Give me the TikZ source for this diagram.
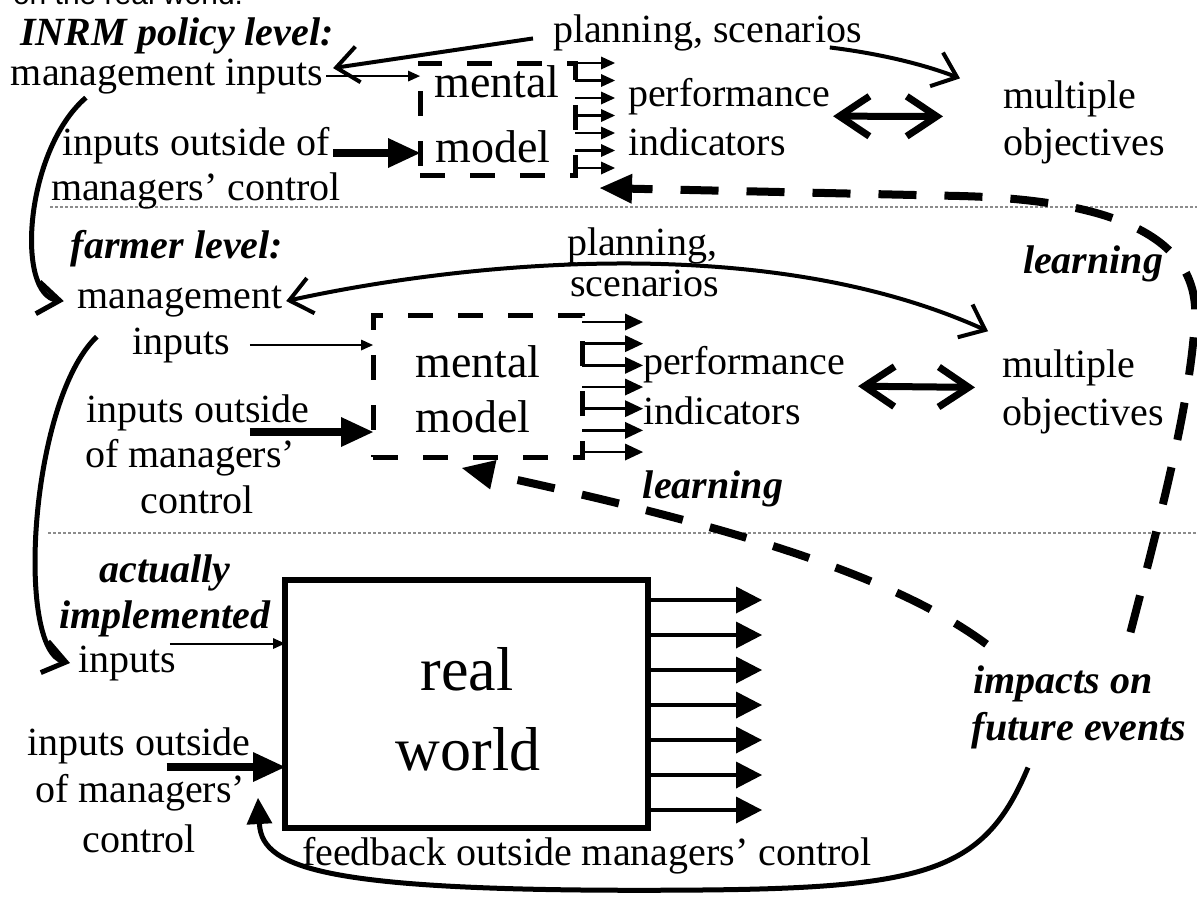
\documentclass[tikz,border=0pt]{standalone}
\usepackage{fontspec}
\setmainfont{Liberation Serif}
\newfontfamily\topfont{Liberation Sans}
\usetikzlibrary{arrows.meta,calc}
\tikzset{
  txt/.style={inner sep=0pt, outer sep=0pt, font=\fontsize{20}{22}\selectfont},
  bi/.style={inner sep=0pt, outer sep=0pt, font=\fontsize{20}{22}\selectfont\bfseries\itshape},
  topcut/.style={inner sep=0pt, outer sep=0pt, font=\topfont\fontsize{15}{15}\selectfont},
  mmtxt/.style={inner sep=0pt, outer sep=0pt, font=\fontsize{23}{25}\selectfont},
  rwtxt/.style={inner sep=0pt, outer sep=0pt, font=\fontsize{31}{33}\selectfont},
  mbox/.style={draw, line width=2.5pt, dash pattern=on 12.5pt off 12.5pt, inner sep=0pt, outer sep=0pt},
  rwbox/.style={draw, line width=3pt, inner sep=0pt, outer sep=0pt},
  sepline/.style={draw=black!45, line width=0.6pt, dash pattern=on 1.5pt off 1pt},
  thinarr/.style={line width=1pt, -{Triangle[length=6pt,width=5.5pt,line width=0pt]}},
  thickarr/.style={line width=4pt, -{Triangle[length=16pt,width=15pt,line width=0pt]}},
  outarr/.style={line width=1.25pt, -{Triangle[length=7pt,width=6.5pt,line width=0pt]}},
  outarrb/.style={line width=1.25pt, -{Triangle[length=9pt,width=8.5pt,line width=0pt]}},
  bigout/.style={line width=2.25pt, -{Triangle[length=13pt,width=13.5pt,line width=0pt]}},
  barb/.style={line width=2pt, -{Straight Barb[length=11pt,width=18pt]}},
  barbs/.style={line width=2pt, {Straight Barb[length=11pt,width=18pt]}-{Straight Barb[length=11pt,width=18pt]}},
  curvearr/.style={line width=2.5pt, -{Straight Barb[length=11pt,width=16pt]}},
  dblarr/.style={line width=3.5pt, {Straight Barb[length=15pt,width=20pt]}-{Straight Barb[length=15pt,width=20pt]}},
  learn/.style={line width=4pt, dash pattern=on 19pt off 14pt, -{Triangle[length=16pt,width=15pt,line width=0pt]}},
  fbarr/.style={line width=2.5pt, -{Triangle[length=13pt,width=13pt,line width=0pt]}},
}
\begin{document}
\begin{tikzpicture}[x=0.5pt,y=-0.5pt]
\useasboundingbox (0,0) rectangle (1197,896);

% separators
\draw[sepline] (50,207) -- (1197,207);
\draw[sepline] (48,533) -- (1197,533);

% cut caption at the top edge
\node[topcut, anchor=base west] (cut) at (13,4) {on the real world.};

% ---------- INRM policy level ----------
\node[bi, anchor=base] (t1) at (177,45) {INRM policy level:};
\node[txt, anchor=base] (t2) at (167,85) {management inputs};
\node[txt, anchor=base] (t3) at (196,155) {inputs outside of};
\node[txt, anchor=base] (t4) at (196,200) {managers’ control};
\node[mbox, minimum width=77.5pt, minimum height=56pt] (box1) at (497.5,119) {};
\node[mmtxt, anchor=base] (t5) at (497,97) {mental};
\node[mmtxt, anchor=base] (t6) at (493,162) {model};
\node[txt, anchor=base west] (t7) at (628,106) {performance};
\node[txt, anchor=base west] (t8) at (628,155) {indicators};
\node[txt, anchor=base west] (t9) at (1003,108) {multiple};
\node[txt, anchor=base west] (t10) at (1003,155) {objectives};
\node[txt, anchor=base west] (t11) at (553,42) {planning, scenarios};
\node[bi, anchor=base] (t12) at (1093,273) {learning};

% ---------- farmer level ----------
\node[bi, anchor=base] (s1) at (177,258) {farmer level:};
\node[txt, anchor=base] (s2) at (180,308) {management};
\node[txt, anchor=base] (s3) at (181,354) {inputs};
\node[txt, anchor=base] (s4) at (198,422) {inputs outside};
\node[txt, anchor=base] (s5) at (190,467) {of managers’};
\node[txt, anchor=base] (s6) at (197,513) {control};
\node[mbox, minimum width=104.5pt, minimum height=71pt] (box2) at (477.5,386) {};
\node[mmtxt, anchor=base] (s7) at (478,377) {mental};
\node[mmtxt, anchor=base] (s8) at (473,432) {model};
\node[txt, anchor=base west] (s9) at (567,255) {planning,};
\node[txt, anchor=base west] (s10) at (570,296) {scenarios};
\node[txt, anchor=base west] (s11) at (643,374) {performance};
\node[txt, anchor=base west] (s12) at (643,424) {indicators};
\node[txt, anchor=base west] (s13) at (1002,377) {multiple};
\node[txt, anchor=base west] (s14) at (1002,425) {objectives};
\node[bi, anchor=base] (s15) at (713,498) {learning};

% ---------- actually implemented ----------
\node[bi, anchor=base] (a1) at (165,582) {actually};
\node[bi, anchor=base] (a2) at (165,628) {implemented};
\node[txt, anchor=base west] (a3) at (78,672) {inputs};
\node[txt, anchor=base] (a4) at (139,755) {inputs outside};
\node[txt, anchor=base] (a5) at (140,802) {of managers’};
\node[txt, anchor=base] (a6) at (139,852) {control};
\node[rwbox, minimum width=181.5pt, minimum height=124pt] (rw) at (466.5,704) {};
\node[rwtxt, anchor=base] (rw1) at (467,690) {real};
\node[rwtxt, anchor=base] (rw2) at (468,770) {world};
\node[txt, anchor=base west] (fb) at (302,865) {feedback outside managers’ control};
\node[bi, anchor=base] (im1) at (1063,693) {impacts on};
\node[bi, anchor=base] (im2) at (1079,740) {future events};

% ---------- connectors: top level ----------
\draw[thinarr] ([xshift=1.5pt]t2.east) -- (t2.east -| box1.west);
\coordinate (t3a) at ($(t3.base east)+(4,-2)$);
\draw[thickarr] (t3a) -- (t3a -| box1.west);
\foreach \i in {0,...,6}
  \draw[outarr] ($(box1.north east)+(0,17.5*\i)$) -- ++(40,0);
\draw[dblarr] ([shift={(3,20)}]t7.east) -- ([shift={(-60,18)}]t9.west);
\draw[barb] ([shift={(-20,6)}]t11.west) -- ([shift={(10,-8)}]t2.east);
\draw[barb] ([shift={(-32,15)}]t11.east) .. controls (875,53) and (920,63) .. ([shift={(-43,-20)}]t9.west);

% ---------- connectors: farmer level ----------
\draw[thinarr] ([xshift=10pt]s3.east) -- (s3.east -| box2.west);
\coordinate (s4a) at ($(s4.base east)+(-60,10)$);
\draw[thickarr] (s4a) -- (s4a -| box2.west);
\foreach \i in {0,...,6}
  \draw[outarrb] ($(box2.north east)+(0,7+21.67*\i)$) -- ++(61,0);
\draw[dblarr] ([shift={(13,22)}]s11.east) -- ([shift={(-27,20)}]s13.west);
\draw[barbs] ([xshift=2pt]s2.east) .. controls (450,265) and (760,228) .. ([shift={(-14,-18)}]s13.north west);

% ---------- level-to-level curves ----------
\draw[curvearr] ([shift={(75,4)}]t2.south west) .. controls (25,150) and (15,295) .. ([xshift=-7pt]s2.west);
\draw[curvearr] ([shift={(19,20)}]s2.south west) .. controls (30,400) and (15,650) .. ([xshift=-4pt]a3.west);

% ---------- connectors: real world ----------
\coordinate (a3s) at ($(a3.north east)+(-6,-2)$);
\draw[thinarr] (a3s) -- (a3s -| rw.west);
\coordinate (a4s) at ($(a4.base east)+(-84,12)$);
\draw[thickarr] (a4s) -- (a4s -| rw.west);
\foreach \i in {0,...,6}
  \draw[bigout] ($(rw.north east)+(0,20+35*\i)$) -- ++(114,0);

% feedback
\coordinate (fbS) at ($(im2.south)+(-51,19)$);
\coordinate (fbE) at ($(rw.south west)+(-27,-30)$);
\draw[fbarr] (fbS) .. controls (985,870) and (930,888) .. (700,890)
  .. controls (330,893) and (262,870) .. (fbE);

% learning loops
\coordinate (L1s) at ($(im1.north east)+(-22,-33)$);
\draw[learn] (L1s) .. controls (1165,500) and (1190,400) .. (1195,320)
  .. controls (1200,240) and (1120,200) .. (960,196) -- ([shift={(25,13)}]box1.south east);
\coordinate (L2s) at ($(im1.north west)+(13,-21)$);
\draw[learn] (L2s) .. controls (900,580) and (750,530) .. ([shift={(89,11)}]box2.south west);
\end{tikzpicture}
\end{document}
